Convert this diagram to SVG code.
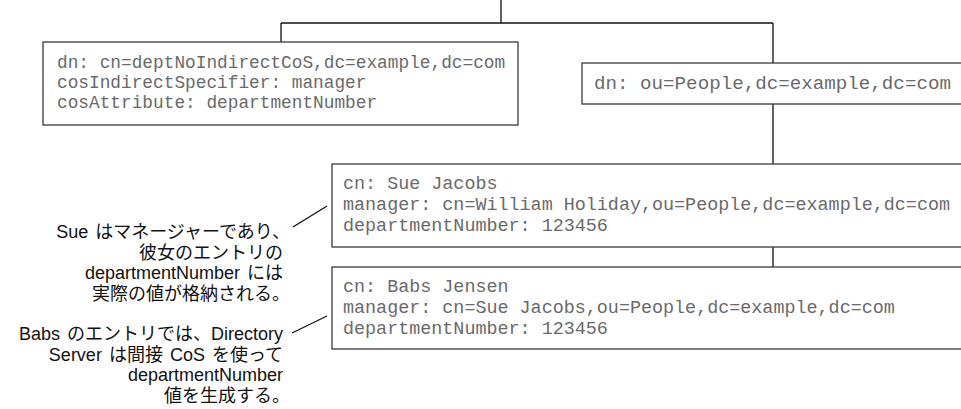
<svg xmlns="http://www.w3.org/2000/svg" width="961" height="409" viewBox="0 0 961 409">
<style>
.box{fill:#fff;stroke:#3a3a3a;stroke-width:1.3}
.mono{font-family:"Liberation Mono","DejaVu Sans Mono",monospace;font-size:18.4px;fill:#6a6a6a}
.note{font-family:"Liberation Sans","Noto Sans CJK JP",sans-serif;font-size:18px;fill:#111;text-anchor:end;word-spacing:2px}
.conn line{stroke:#111;stroke-width:1.3}
</style>
<rect width="961" height="409" fill="#fff"/>
<g class="conn" id="connectors">
<line x1="501" y1="0" x2="501" y2="23"/>
<line x1="281" y1="23" x2="773" y2="23"/>
<line x1="281" y1="23" x2="281" y2="42"/>
<line x1="773" y1="23" x2="773" y2="63"/>
<line x1="773" y1="104" x2="773" y2="164"/>
<line x1="773" y1="247" x2="773" y2="267"/>
<line x1="293" y1="227" x2="327" y2="206"/>
<line x1="292" y1="333" x2="327" y2="316"/>
</g>
<g id="cos-def">
<rect class="box" x="43" y="42" width="475" height="83"/>
<text class="mono" x="57" y="68" style="font-size:17.8px">dn: cn=deptNoIndirectCoS,dc=example,dc=com</text>
<text class="mono" x="57" y="88" style="font-size:17.8px">cosIndirectSpecifier: manager</text>
<text class="mono" x="57" y="108" style="font-size:17.8px">cosAttribute: departmentNumber</text>
</g>
<g id="people">
<rect class="box" x="582" y="63" width="400" height="41"/>
<text class="mono" x="594" y="89" style="font-size:19.2px">dn: ou=People,dc=example,dc=com</text>
</g>
<g id="sue">
<rect class="box" x="332" y="164" width="650" height="83"/>
<text class="mono" x="343" y="189">cn: Sue Jacobs</text>
<text class="mono" x="343" y="210">manager: cn=William Holiday,ou=People,dc=example,dc=com</text>
<text class="mono" x="343" y="231">departmentNumber: 123456</text>
</g>
<g id="babs">
<rect class="box" x="332" y="267" width="650" height="82"/>
<text class="mono" x="343" y="292">cn: Babs Jensen</text>
<text class="mono" x="343" y="313">manager: cn=Sue Jacobs,ou=People,dc=example,dc=com</text>
<text class="mono" x="343" y="334">departmentNumber: 123456</text>
</g>
<g id="note-sue">
<text class="note" x="290" y="238">Sue はマネージャーであり、</text>
<text class="note" x="283" y="259">彼女のエントリの</text>
<text class="note" x="283" y="279">departmentNumber には</text>
<text class="note" x="290" y="300">実際の値が格納される。</text>
</g>
<g id="note-babs">
<text class="note" x="283" y="340">Babs のエントリでは、Directory</text>
<text class="note" x="283" y="361">Server は間接 CoS を使って</text>
<text class="note" x="283" y="381">departmentNumber</text>
<text class="note" x="290" y="402">値を生成する。</text>
</g>
</svg>
